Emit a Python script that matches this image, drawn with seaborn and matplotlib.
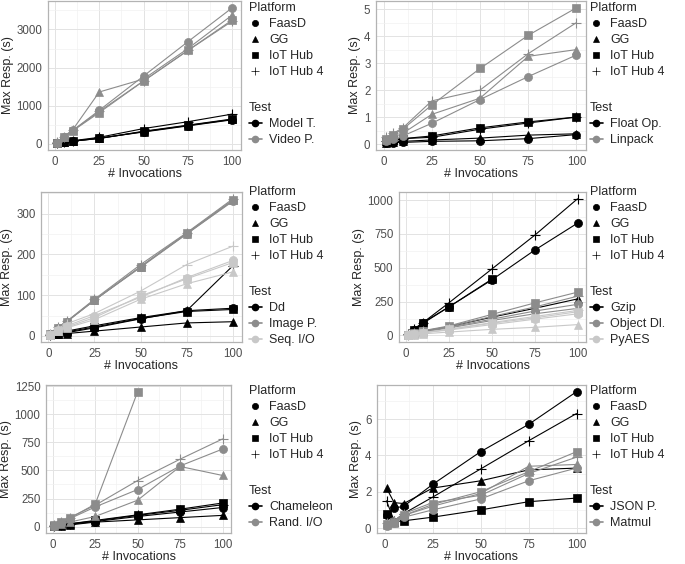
import numpy as np
import pandas as pd
import matplotlib
matplotlib.use("Agg")
import matplotlib.pyplot as plt
import seaborn as sns
from matplotlib.lines import Line2D
from matplotlib.ticker import AutoMinorLocator

# wartosci (wiersze: FaasD, GG, IoT Hub, IoT Hub 4)
invocations = [1, 5, 10, 25, 50, 75, 100]
platforms = ["FaasD", "GG", "IoT Hub", "IoT Hub 4"]

model_t = [[20, 40, 70, 150, 310, 470, 630],
           [20, 40, 70, 140, 320, 480, 640],
           [15, 40, 70, 140, 330, 490, 650],
           [30, 50, 80, 170, 400, 580, 780]]
video_p = [[30, 180, 350, 880, 1780, 2680, 3570],
           [40, 190, 370, 1360, 1700, 2500, 3380],
           [30, 170, 340, 820, 1650, 2450, 3250],
           [40, 180, 350, 850, 1650, 2450, 3220]]

float_op = [[0.03, 0.05, 0.06, 0.10, 0.12, 0.20, 0.35],
            [0.05, 0.08, 0.10, 0.15, 0.22, 0.33, 0.38],
            [0.10, 0.15, 0.20, 0.30, 0.60, 0.82, 1.00],
            [0.12, 0.15, 0.20, 0.25, 0.55, 0.78, 1.00]]
linpack = [[0.10, 0.20, 0.30, 0.77, 1.65, 2.50, 3.30],
           [0.15, 0.25, 0.40, 1.10, 1.70, 3.25, 3.50],
           [0.20, 0.35, 0.55, 1.45, 2.80, 4.03, 5.05],
           [0.25, 0.40, 0.60, 1.60, 2.00, 3.35, 4.50]]

dd = [[2, 5, 8, 20, 42, 62, 68],
      [2, 4, 6, 12, 22, 32, 35],
      [2, 6, 10, 22, 43, 60, 65],
      [3, 8, 12, 25, 45, 62, 172]]
image_p = [[5, 20, 35, 88, 168, 250, 330],
           [5, 20, 35, 87, 170, 250, 332],
           [5, 20, 35, 88, 170, 252, 333],
           [6, 21, 36, 90, 175, 253, 336]]
seq_io = [[3, 15, 25, 50, 95, 143, 185],
          [3, 12, 20, 40, 90, 128, 157],
          [3, 13, 22, 45, 98, 140, 180],
          [5, 18, 30, 55, 110, 175, 220]]

gzip = [[5, 40, 90, 210, 410, 630, 830],
        [3, 15, 30, 65, 135, 200, 270],
        [5, 40, 95, 210, 415, np.nan, np.nan],
        [10, 50, 95, 240, 490, 740, 1010]]
object_dl = [[3, 15, 30, 60, 120, 180, 230],
             [3, 12, 25, 55, 110, 160, 200],
             [5, 20, 35, 70, 155, 240, 320],
             [5, 18, 33, 65, 140, 210, 290]]
pyaes = [[2, 10, 20, 40, 80, 120, 160],
         [2, 6, 12, 25, 45, 60, 80],
         [2, 10, 20, 45, 90, 130, 175],
         [3, 12, 22, 45, 95, 140, 185]]

chameleon = [[3, 10, 20, 45, 90, 130, 170],
             [3, 8, 15, 40, 60, 80, 100],
             [5, 15, 25, 55, 105, 155, 210],
             [5, 15, 25, 50, 100, 145, 195]]
rand_io = [[5, 30, 70, 175, 330, 540, 690],
           [5, 20, 40, 90, 235, 535, 455],
           [10, 40, 75, 200, 1200, np.nan, np.nan],
           [10, 40, 80, 190, 410, 600, 780]]

json_p = [[0.70, 1.10, 1.20, 2.40, 4.20, 5.70, 7.50],
          [2.20, 1.40, 1.35, 2.20, 2.60, 3.20, 3.30],
          [0.75, 0.35, 0.40, 0.60, 1.00, 1.45, 1.65],
          [1.50, 0.40, 0.80, 1.70, 3.25, 4.80, 6.30]]
matmul = [[0.10, 0.30, 0.60, 1.00, 1.60, 2.60, 3.30],
          [0.15, 0.30, 0.70, 1.20, 1.90, 3.40, 3.50],
          [0.20, 0.35, 0.70, 1.30, 2.00, 3.10, 4.20],
          [0.30, 0.40, 0.80, 1.40, 1.80, 3.00, 3.90]]

panels = [
    ({"Model T.": model_t, "Video P.": video_p}, [0, 1000, 2000, 3000]),
    ({"Float Op.": float_op, "Linpack": linpack}, [0, 1, 2, 3, 4, 5]),
    ({"Dd": dd, "Image P.": image_p, "Seq. I/O": seq_io}, [0, 100, 200, 300]),
    ({"Gzip": gzip, "Object Dl.": object_dl, "PyAES": pyaes}, [0, 250, 500, 750, 1000]),
    ({"Chameleon": chameleon, "Rand. I/O": rand_io}, [0, 250, 500, 750, 1000, 1250]),
    ({"JSON P.": json_p, "Matmul": matmul}, [0, 2, 4, 6]),
]

# pozycje paneli w pikselach: lewo, prawo, gora, dol
boxes = [(48, 241, 1, 150), (376, 586, 1, 150),
         (41, 242, 192, 342), (399, 586, 192, 342),
         (46, 231, 385, 533), (377, 586, 385, 533)]
legend_pos = [(249, 2), (590, 2), (249, 186), (590, 186), (249, 385), (590, 385)]

markers = {"FaasD": "o", "GG": "^", "IoT Hub": "s", "IoT Hub 4": "+"}
greys = ["#000000", "#8c8c8c", "#c8c8c8"]

sns.set_theme(style="whitegrid")
plt.rcParams["font.family"] = ["Liberation Sans", "DejaVu Sans"]

W, H = 685, 564
fig = plt.figure(figsize=(W / 100, H / 100), dpi=100)

for (tests, yticks), (l, r, t, b), (lx, ly) in zip(panels, boxes, legend_pos):
    rows = []
    for test, vals in tests.items():
        for p, series in zip(platforms, vals):
            for x, v in zip(invocations, series):
                rows.append({"Invocations": x, "Resp": v, "Platform": p, "Test": test})
    df = pd.DataFrame(rows).dropna()

    ax = fig.add_axes([l / W, 1 - b / H, (r - l) / W, (b - t) / H])
    test_names = list(tests.keys())
    pal = dict(zip(test_names, greys))

    for test in test_names:
        for p in platforms:
            sub = df[(df.Test == test) & (df.Platform == p)]
            m = markers[p]
            sns.lineplot(data=sub, x="Invocations", y="Resp", ax=ax, color=pal[test],
                         marker=m, markersize=7.5 if m == "+" else 5.8,
                         markeredgecolor=pal[test], markeredgewidth=0.8 if m == "+" else 0.5,
                         linewidth=0.8, legend=False)

    ax.set_xticks([0, 25, 50, 75, 100])
    ax.set_yticks(yticks)
    ax.margins(x=0.05, y=0.05)
    ax.xaxis.set_minor_locator(AutoMinorLocator(2))
    ax.yaxis.set_minor_locator(AutoMinorLocator(2))
    ax.grid(which="major", color="#e3e3e3", linewidth=0.7)
    ax.grid(which="minor", color="#f1f1f1", linewidth=0.5)
    ax.set_facecolor("white")
    for s in ax.spines.values():
        s.set_color("#b3b3b3")
        s.set_linewidth(0.9)
    ax.tick_params(which="major", length=2.5, width=0.6, color="#b3b3b3",
                   labelsize=8.3, labelcolor="#4d4d4d", pad=1.5)
    ax.tick_params(which="minor", length=0)
    ax.set_xlabel("# Invocations", fontsize=9, labelpad=0.5)
    ax.set_ylabel("Max Resp. (s)", fontsize=9, labelpad=2)

    plat_handles = [Line2D([], [], linestyle="None", marker=markers[p], color="black",
                           markersize=6 if markers[p] == "+" else 4.5,
                           markeredgewidth=0.5) for p in platforms]
    leg1 = ax.legend(plat_handles, platforms, title="Platform", loc="upper left",
                     bbox_to_anchor=(lx / W, 1 - ly / H), bbox_transform=fig.transFigure,
                     frameon=False, fontsize=9, title_fontsize=9, alignment="left",
                     labelspacing=0.32, handlelength=1.0, handletextpad=0.6,
                     borderaxespad=0, borderpad=0)
    ax.add_artist(leg1)
    test_handles = [Line2D([], [], color=pal[tn], marker="o", markersize=4.5, linewidth=1.2)
                    for tn in test_names]
    ax.legend(test_handles, test_names, title="Test", loc="upper left",
              bbox_to_anchor=(lx / W, 1 - (ly + 100) / H), bbox_transform=fig.transFigure,
              frameon=False, fontsize=9, title_fontsize=9, alignment="left",
              labelspacing=0.32, handlelength=1.0, handletextpad=0.6,
              borderaxespad=0, borderpad=0)

fig.savefig("out.png", dpi=100)
